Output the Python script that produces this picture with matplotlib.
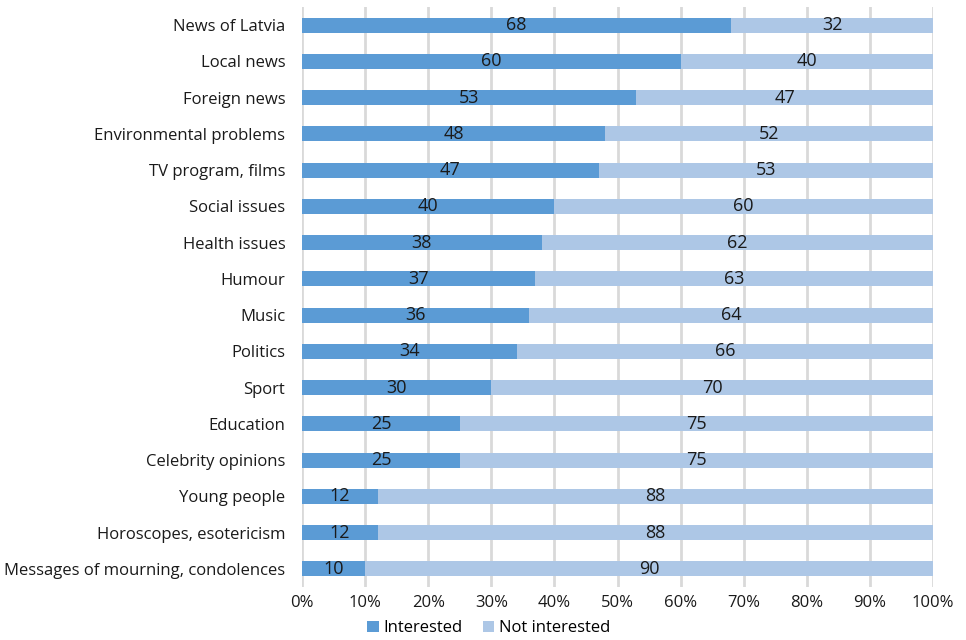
import matplotlib
matplotlib.use("Agg")
import matplotlib.pyplot as plt
import numpy as np

plt.rcParams["font.family"] = ["Open Sans", "DejaVu Sans"]

topics = [
    "News of Latvia", "Local news", "Foreign news", "Environmental problems",
    "TV program, films", "Social issues", "Health issues", "Humour", "Music",
    "Politics", "Sport", "Education", "Celebrity opinions", "Young people",
    "Horoscopes, esotericism", "Messages of mourning, condolences",
]
interested = [68, 60, 53, 48, 47, 40, 38, 37, 36, 34, 30, 25, 25, 12, 12, 10]
not_interested = [32, 40, 47, 52, 53, 60, 62, 63, 64, 66, 70, 75, 75, 88, 88, 90]

DARK = "#5b9bd5"
LIGHT = "#adc7e6"
TEXT = "#1a1a1a"

fig = plt.figure(figsize=(9.66, 6.4), dpi=100, facecolor="white")
ax = fig.add_axes([302 / 966, 1 - 587 / 640, 631 / 966, 580 / 640])

y = np.arange(len(topics))
h = 0.42
b1 = ax.barh(y, interested, height=h, color=DARK, label="Interested", zorder=3)
b2 = ax.barh(y, not_interested, left=interested, height=h, color=LIGHT,
             label="Not interested", zorder=3)
for bars in (b1, b2):
    lbls = ax.bar_label(bars, label_type="center", fontsize=13, color=TEXT)
    for t in lbls:
        t.set_va("center")

ax.set_ylim(len(topics) - 0.5, -0.5)
ax.set_xlim(0, 100)
ax.set_yticks(y)
ax.set_yticklabels(topics, fontsize=12, color=TEXT)
ax.set_xticks(np.arange(0, 101, 10))
ax.set_xticklabels([f"{v}%" for v in range(0, 101, 10)], fontsize=12, color=TEXT)
ax.tick_params(axis="y", length=0, pad=12)
ax.tick_params(axis="x", length=0, pad=6)
ax.xaxis.grid(True, color="#d9d9d9", lw=2, zorder=0)
for s in ax.spines.values():
    s.set_visible(False)

ax.legend(loc="center", bbox_to_anchor=(0.296, -0.071), ncol=2, frameon=False,
          fontsize=12, handlelength=0.7, handleheight=0.7, handletextpad=0.3,
          columnspacing=1.2, borderpad=0, borderaxespad=0)

fig.savefig("out.png", dpi=100)
